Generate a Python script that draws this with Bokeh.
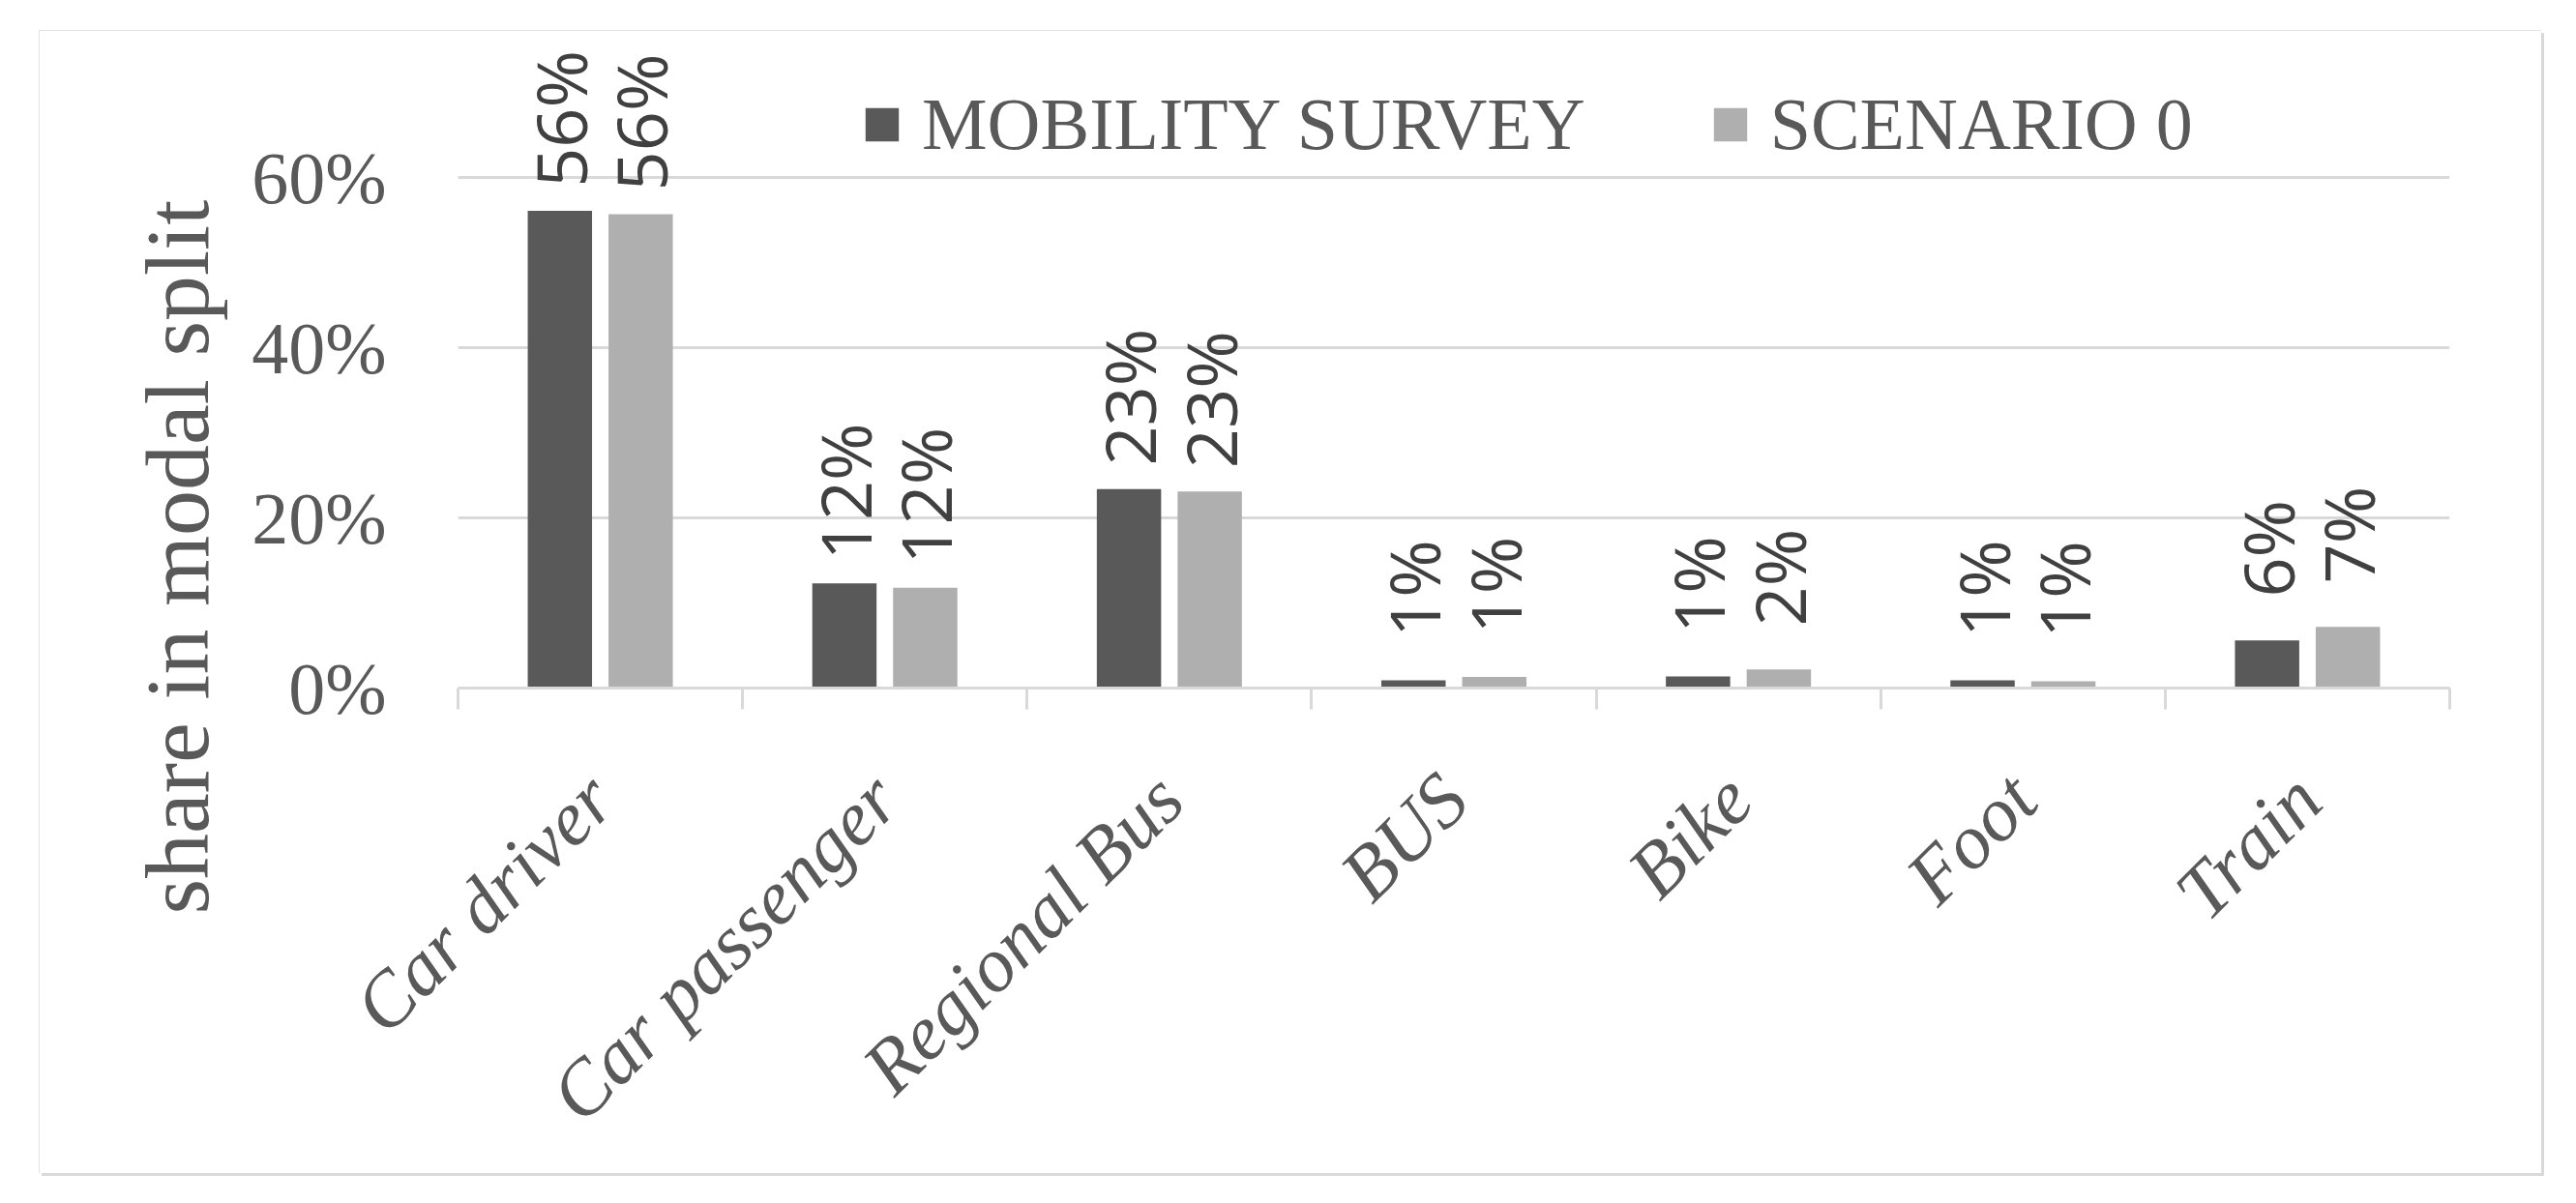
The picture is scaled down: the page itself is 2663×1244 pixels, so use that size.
from math import pi
from bokeh.plotting import figure
from bokeh.models import (ColumnDataSource, Range1d, FixedTicker, NumeralTickFormatter,
                          LabelSet, Legend, LegendItem, Title)
from bokeh.core.properties import value
from bokeh.embed import file_html
from bokeh.resources import INLINE

# ---- data ----
categories = ["Car driver", "Car passenger", "Regional Bus", "BUS", "Bike", "Foot", "Train"]
mobility_survey = [0.561, 0.123, 0.234, 0.009, 0.0135, 0.009, 0.056]
scenario_0 = [0.557, 0.118, 0.231, 0.013, 0.022, 0.008, 0.072]
series_names = ["MOBILITY SURVEY", "SCENARIO 0"]
y_ticks = [0, 0.2, 0.4, 0.6]
y_title = "share in modal split"

# ---- styles ----
DARK = "#595959"
LIGHT = "#afafaf"
TEXT = "#595959"
GRID = "#d9d9d9"
W, H = 2587, 1182
FRAME_L, FRAME_R, FRAME_T, FRAME_B = 433, 2492, 14, 680
OFF, BW = 0.142, 0.226

p = figure(width=W, height=H, output_backend="svg", toolbar_location=None,
           x_range=Range1d(0, len(categories)), y_range=Range1d(0, 0.757),
           min_border_left=FRAME_L, min_border_right=W - FRAME_R,
           min_border_top=FRAME_T, min_border_bottom=H - FRAME_B)
p.outline_line_color = None
p.background_fill_color = "white"
p.border_fill_color = "white"
p.styles = {"margin-left": "40px", "margin-top": "31px",
            "outline": "5px solid #d9d9d9", "outline-offset": "-5px",
            "box-shadow": "3px 3px 0px #d9d9d9"}

centers = [i + 0.5 for i in range(len(categories))]
src1 = ColumnDataSource(dict(x=[c - OFF for c in centers], top=mobility_survey,
                             lab=[f"{v:.0%}" for v in mobility_survey]))
src2 = ColumnDataSource(dict(x=[c + OFF for c in centers], top=scenario_0,
                             lab=[f"{v:.0%}" for v in scenario_0]))

r1 = p.vbar(x="x", top="top", width=BW, source=src1, fill_color=DARK, line_color=None)
r2 = p.vbar(x="x", top="top", width=BW, source=src2, fill_color=LIGHT, line_color=None)

for s in (src1, src2):
    p.add_layout(LabelSet(x="x", y="top", text="lab", source=s, angle=pi / 2,
                          y_offset=95, text_align="center", text_baseline="middle",
                          text_font=value("Open Sans"), text_font_size="72px",
                          text_color="#404040"))

# x axis
xa = p.xaxis[0]
xa.ticker = FixedTicker(ticks=centers, minor_ticks=list(range(len(categories) + 1)))
xa.major_label_overrides = {c: n for c, n in zip(centers, categories)}
xa.axis_line_color = GRID
xa.axis_line_width = 3
xa.major_tick_out = 0
xa.major_tick_in = 0
xa.minor_tick_in = 0
xa.minor_tick_out = 22
xa.minor_tick_line_color = GRID
xa.minor_tick_line_width = 3
xa.major_label_orientation = pi / 4
xa.major_label_standoff = 80
xa.major_label_text_font = "Liberation Serif"
xa.major_label_text_font_style = "italic"
xa.major_label_text_font_size = "80px"
xa.major_label_text_color = TEXT

# y axis
ya = p.yaxis[0]
ya.ticker = FixedTicker(ticks=y_ticks)
ya.formatter = NumeralTickFormatter(format="0%")
ya.axis_line_color = None
ya.major_tick_line_color = None
ya.minor_tick_line_color = None
ya.major_label_standoff = 68
ya.major_label_text_font = "Liberation Serif"
ya.major_label_text_font_size = "76px"
ya.major_label_text_color = TEXT

p.xgrid.visible = False
p.ygrid.ticker = FixedTicker(ticks=y_ticks)
p.ygrid.grid_line_color = GRID
p.ygrid.grid_line_width = 3

# y axis title
p.add_layout(Title(text=y_title, align="left", offset=-234, standoff=44,
                   vertical_align="middle", text_font="Liberation Serif",
                   text_font_size="94px", text_font_style="normal",
                   text_color=TEXT), "left")

# legend
legend = Legend(items=[LegendItem(label=series_names[0], renderers=[r1]),
                       LegendItem(label=series_names[1], renderers=[r2])],
                orientation="horizontal", location=(417, 539),
                glyph_width=43, glyph_height=43, label_standoff=20, spacing=128,
                padding=0, margin=0, border_line_color=None, background_fill_alpha=0,
                label_text_font="Liberation Serif", label_text_font_size="76px",
                label_text_color=TEXT)
p.add_layout(legend)

open("out.html", "w").write(file_html(p, INLINE))
